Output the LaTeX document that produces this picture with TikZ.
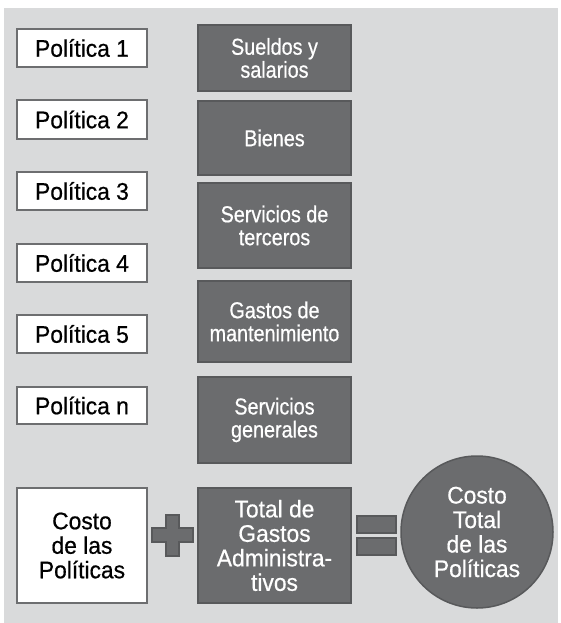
\documentclass[tikz,border=0pt]{standalone}
\usepackage{fontspec}
\setmainfont{Liberation Sans}
\newfontfamily\narrowfont[FakeStretch=0.86,FakeBold=0.6]{Liberation Sans}
\newfontfamily\whitefont[FakeStretch=0.95,FakeBold=0.6]{Liberation Sans}
\definecolor{bgcol}{HTML}{D9DADB}
\definecolor{darkfill}{HTML}{6B6C6E}
\definecolor{darkline}{HTML}{58595B}
\definecolor{lightline}{HTML}{6D6E70}
\tikzset{
  polbox/.style={draw=lightline, line width=1.5pt, fill=white, minimum width=130pt,
    inner sep=0pt, align=center, font=\whitefont\fontsize{24}{25}\selectfont},
  darkbox/.style={draw=darkline, line width=1.5pt, fill=darkfill, minimum width=153pt,
    inner sep=0pt, align=center, text=white, font=\narrowfont\fontsize{23}{23}\selectfont},
  bigtext/.style={font=\whitefont\fontsize{24}{24.5}\selectfont},
  symb/.style={draw=darkline, line width=1.5pt, fill=darkfill},
}
\begin{document}
\begin{tikzpicture}[x=1pt,y=-1pt]
\useasboundingbox (0,0) rectangle (560,623);
\fill[bgcol] (4,8) rectangle (558,623);
% policy boxes
\node[polbox, minimum height=38pt] (p1) at (82,48) {Política 1};
\node[polbox, minimum height=39pt] (p2) at (82,119.5) {Política 2};
\node[polbox, minimum height=38pt] (p3) at (82,191) {Política 3};
\node[polbox, minimum height=38pt] (p4) at (82,263) {Política 4};
\node[polbox, minimum height=38pt] (p5) at (82,334) {Política 5};
\node[polbox, minimum height=37pt] (pn) at (82,405.5) {Política n};
% dark boxes
\node[darkbox, minimum height=66pt] (s1) at (274.5,58) {Sueldos y\\salarios};
\node[darkbox, minimum height=74pt] (s2) at (274.5,138) {Bienes};
\node[darkbox, minimum height=85pt] (s3) at (274.5,225.5) {Servicios de\\terceros};
\node[darkbox, minimum height=81pt] (s4) at (274.5,321.5) {Gastos de\\mantenimiento};
\node[darkbox, minimum height=86pt] (s5) at (274.5,420) {Servicios\\generales};
% bottom row
\node[polbox, bigtext, minimum height=115pt] (costo) at (82,545.5) {Costo\\de las\\Políticas};
\node[darkbox, bigtext, minimum height=115pt] (total) at (274.5,545.5) {Total de\\Gastos\\Administra-\\tivos};
\node[circle, draw=darkline, line width=1.5pt, fill=darkfill, minimum size=152pt, inner sep=0pt,
  align=center, text=white, bigtext] (circ) at (477,532) {Costo\\Total\\de las\\Políticas};
% plus sign
\draw[symb] (166,515) -- (179,515) -- (179,528) -- (193,528) -- (193,542) -- (179,542)
  -- (179,556) -- (166,556) -- (166,542) -- (152,542) -- (152,528) -- (166,528) -- cycle;
% equal sign
\node[symb, minimum width=39pt, minimum height=17pt, inner sep=0pt] (eq1) at (376.5,524.5) {};
\node[symb, minimum width=39pt, minimum height=17pt, inner sep=0pt] (eq2) at (376.5,546.5) {};
\end{tikzpicture}
\end{document}
